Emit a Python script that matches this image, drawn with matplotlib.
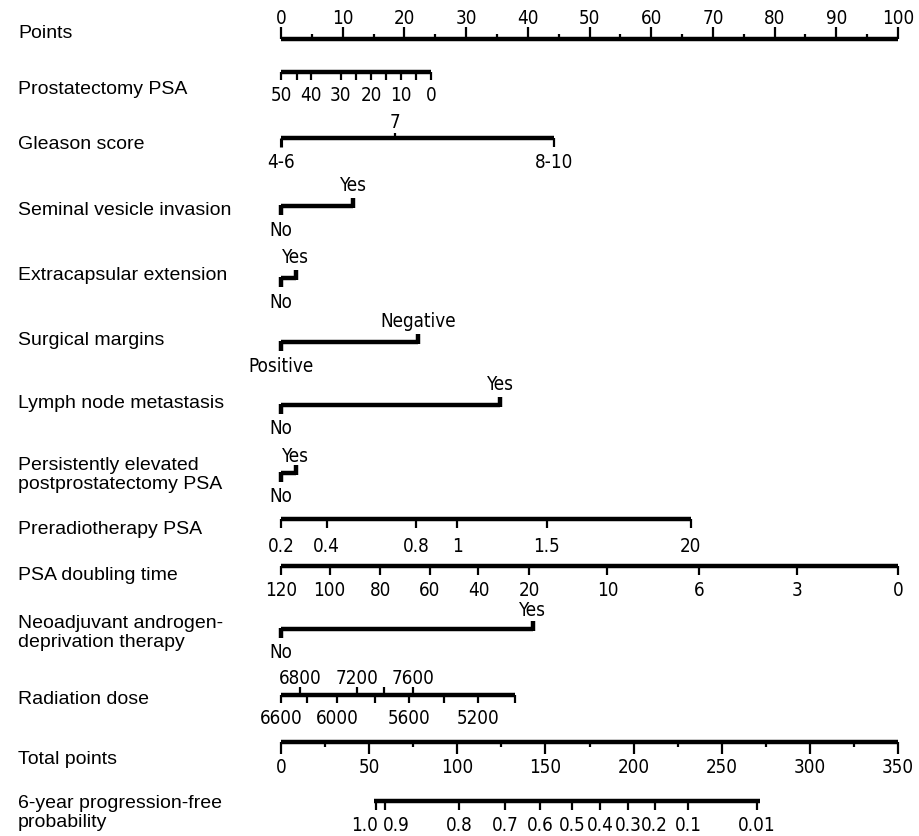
import matplotlib.pyplot as plt
from matplotlib import font_manager

# ---- data: tick labels and their position on the 0-100 "Points" scale ----
points_major = list(range(0, 101, 10))
points_minor = list(range(5, 100, 10))

psa_labels = ["50", "40", "30", "20", "10", "0"]
psa_pos = [0, 4.9, 9.7, 14.6, 19.5, 24.3]
psa_minor = [2.6, 12.1, 17.0, 21.9]

gleason_labels = ["4-6", "7", "8-10"]
gleason_pos = [0, 18.4, 44.3]

svi_pos = [0, 11.7]            # No, Yes
ece_pos = [0, 2.4]             # No, Yes
margin_pos = [0, 22.2]         # Positive, Negative
lnm_pos = [0, 35.5]            # No, Yes
persist_pos = [0, 2.4]         # No, Yes
adt_pos = [0, 40.8]            # No, Yes

prert_labels = ["0.2", "0.4", "0.8", "1", "1.5", "20"]
prert_pos = [0, 7.4, 21.9, 28.6, 43.1, 66.4]

psadt_labels = ["120", "100", "80", "60", "40", "20", "10", "6", "3", "0"]
psadt_pos = [0, 7.9, 16.1, 24.1, 32.0, 40.2, 52.9, 67.7, 83.6, 100]

dose_up_labels = ["6800", "7200", "", "7600"]
dose_up_pos = [3.1, 12.3, 16.7, 21.4]
dose_low_labels = ["6600", "", "6000", "", "5600", "", "5200", ""]
dose_low_pos = [0, 4.2, 9.1, 15.2, 20.7, 26.4, 31.9, 37.9]

total_major = list(range(0, 351, 50))
total_minor = list(range(25, 350, 50))
total_max = 350

prob_labels = ["1.0", "0.9", "0.8", "0.7", "0.6", "0.5", "0.4", "0.3", "0.2", "0.1", "0.01"]
prob_total = [54, 59, 101, 127, 147, 165, 181, 197, 212, 231, 270]
prob_line = [53, 272]

row_names = ["Points", "Prostatectomy PSA", "Gleason score", "Seminal vesicle invasion",
             "Extracapsular extension", "Surgical margins", "Lymph node metastasis",
             "Persistently elevated\npostprostatectomy PSA", "Preradiotherapy PSA",
             "PSA doubling time", "Neoadjuvant androgen-\ndeprivation therapy",
             "Radiation dose", "Total points", "6-year progression-free\nprobability"]

# ---- layout (pixel rows, y grows downward) ----
W, H = 920, 837
PX = 6.17          # pixels per point
X0 = 281           # pixel of 0 points
name_y = [33, 89, 144, 210, 275, 340, 404, 475, 530, 575, 633, 700, 760, 813]

LW = 3.2
TW = 1.6

# narrow font for the scale numbers, if one is installed
narrow = None
for pref in ["LiberationSansNarrow-Regular", "DejaVuSansCondensed.ttf"]:
    for f in font_manager.fontManager.ttflist:
        if pref in f.fname:
            narrow = f.fname
            break
    if narrow:
        break
if narrow:
    tick_font = dict(fontproperties=font_manager.FontProperties(fname=narrow, size=13.5))
else:
    tick_font = dict(family="DejaVu Sans", fontsize=11)
name_font = dict(family=["Liberation Sans", "DejaVu Sans"], fontsize=14)

fig = plt.figure(figsize=(W / 100, H / 100), dpi=100)
ax = fig.add_axes([0, 0, 1, 1])
ax.set_xlim(-X0 / PX, (W - X0) / PX)
ax.set_ylim(H, 0)
ax.axis("off")

name_x = (18 - X0) / PX
for name, y in zip(row_names, name_y):
    ax.text(name_x, y, name, ha="left", va="center", linespacing=1.2, **name_font)


def hline(x1, x2, y):
    ax.plot([x1, x2], [y, y], color="black", lw=LW, solid_capstyle="butt")


def tick(x, y, length, lw=TW):
    # positive length = downward
    ax.plot([x, x], [y, y + length], color="black", lw=lw, solid_capstyle="butt")


def label(x, y, s, ha="center"):
    ax.text(x, y, s, ha=ha, va="center", **tick_font)


# Points axis
y = 40
hline(0, 100, y)
for v in points_major:
    tick(v, y, -12)
    label(v, y - 22, str(v))
for v in points_minor:
    tick(v, y, -5)

# Prostatectomy PSA
y = 73
hline(psa_pos[0], psa_pos[-1], y)
for s, v in zip(psa_labels, psa_pos):
    tick(v, y, 8)
    label(v, y + 22, s)
for v in psa_minor:
    tick(v, y, 8)

# Gleason score
y = 139
hline(gleason_pos[0], gleason_pos[-1], y)
tick(gleason_pos[0], y, 9, lw=LW * 0.7)
tick(gleason_pos[2], y, 9, lw=TW)
tick(gleason_pos[1], y, -5)
label(gleason_pos[0], y + 23, gleason_labels[0])
label(gleason_pos[2], y + 23, gleason_labels[2])
label(gleason_pos[1], y - 17, gleason_labels[1])


def binary(pos, y, low, high, up=22):
    hline(pos[0], pos[1], y)
    tick(pos[0], y - 1.5, 10, lw=LW)
    tick(pos[1], y + 1.5, -10, lw=LW)
    label(pos[0], y + 23, low)
    label(pos[1], y - up, high)


binary(svi_pos, 207, "No", "Yes")
binary(ece_pos, 279, "No", "Yes")
binary(margin_pos, 343, "Positive", "Negative")
binary(lnm_pos, 406, "No", "Yes")
binary(persist_pos, 474, "No", "Yes", up=17)

# Preradiotherapy PSA
y = 520
hline(prert_pos[0], prert_pos[-1], y)
for s, v in zip(prert_labels, prert_pos):
    tick(v, y, 9)
    label(v, y + 26, s)

# PSA doubling time
y = 567
hline(psadt_pos[0], psadt_pos[-1], y)
for s, v in zip(psadt_labels, psadt_pos):
    tick(v, y, 9)
    label(v, y + 23, s)

# Neoadjuvant ADT
binary(adt_pos, 630, "No", "Yes", up=20)

# Radiation dose
y = 696
hline(dose_low_pos[0], dose_low_pos[-1], y)
for s, v in zip(dose_up_labels, dose_up_pos):
    tick(v, y, -8)
    if s:
        label(v, y - 18, s)
for s, v in zip(dose_low_labels, dose_low_pos):
    tick(v, y, 8)
    if s:
        label(v, y + 22, s)

# Total points
y = 743
hline(0, 100, y)
for v in total_major:
    tick(v * 100 / total_max, y, 12)
    label(v * 100 / total_max, y + 25, str(v))
for v in total_minor:
    tick(v * 100 / total_max, y, 5)

# 6-year progression-free probability
y = 802
hline(prob_line[0] * 100 / total_max, prob_line[1] * 100 / total_max, y)
for i, (s, v) in enumerate(zip(prob_labels, prob_total)):
    x = v * 100 / total_max
    tick(x, y, 9)
    if i == 0:
        label(x + 0.3, y + 24, s, ha="right")
    elif i == 1:
        label(x - 0.4, y + 24, s, ha="left")
    else:
        label(x, y + 24, s)

fig.savefig("out.png", dpi=100)
